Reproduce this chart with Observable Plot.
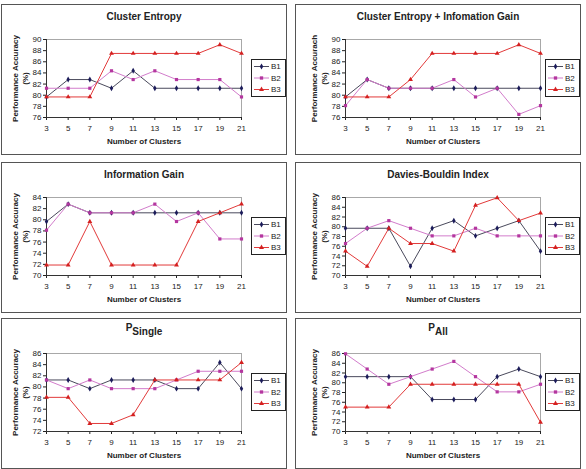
<!DOCTYPE html>
<html><head><meta charset="utf-8">
<script src="https://cdn.jsdelivr.net/npm/d3@7"></script>
<script src="https://cdn.jsdelivr.net/npm/@observablehq/plot@0.6"></script>
<style>
body{margin:0;background:#fff;font-family:"Liberation Sans",Arial,sans-serif;}
#root{position:relative;width:586px;height:469px;overflow:hidden;}
.panel{position:absolute;border:1.5px solid #555;box-sizing:border-box;background:#fff;}
.panel svg{position:absolute;left:0;top:0;}
.title{position:absolute;left:0;right:0;text-align:center;font-weight:bold;font-size:10px;line-height:12px;color:#222;}
.title sub{font-size:10px;vertical-align:-4px;}
.legend{position:absolute;border:1px solid #222;background:#fff;}
</style></head><body><div id="root"></div>
<script>
// ---- data ----
const clusters = [3,5,7,9,11,13,15,17,19,21];
const seriesNames = ["B1","B2","B3"];
const lineColors = ["#4a4a5c","#d27ccb","#e23a3a"];
const markColors = ["#1c1c5a","#b4369f","#d42020"];
const markSymbols = ["diamond","square","triangle"];

const ceB1 = [79.69,82.81,82.81,81.25,84.38,81.25,81.25,81.25,81.25,81.25];
const ceB2 = [81.25,81.25,81.25,84.38,82.81,84.38,82.81,82.81,82.81,79.69];
const ceB3 = [79.69,79.69,79.69,87.5,87.5,87.5,87.5,87.5,89.06,87.5];

const ceigB1 = [79.69,82.81,81.25,81.25,81.25,81.25,81.25,81.25,81.25,81.25];
const ceigB2 = [78.13,82.81,81.25,81.25,81.25,82.81,79.69,81.25,76.56,78.13];
const ceigB3 = [79.69,79.69,79.69,82.81,87.5,87.5,87.5,87.5,89.06,87.5];

const igB1 = [79.69,82.81,81.25,81.25,81.25,81.25,81.25,81.25,81.25,81.25];
const igB2 = [78.13,82.81,81.25,81.25,81.25,82.81,79.69,81.25,76.56,76.56];
const igB3 = [71.88,71.88,79.69,71.88,71.88,71.88,71.88,79.69,81.25,82.81];

const dbB1 = [79.69,79.69,79.69,71.88,79.69,81.25,78.13,79.69,81.25,75.0];
const dbB2 = [76.56,79.69,81.25,79.69,78.13,78.13,79.69,78.13,78.13,78.13];
const dbB3 = [75.0,71.88,79.69,76.56,76.56,75.0,84.38,85.94,81.25,82.81];

const psB1 = [81.25,81.25,79.69,81.25,81.25,81.25,79.69,79.69,84.38,79.69];
const psB2 = [81.25,79.69,81.25,79.69,79.69,79.69,81.25,82.81,82.81,82.81];
const psB3 = [78.13,78.13,73.44,73.44,75.0,81.25,81.25,81.25,81.25,84.38];

const paB1 = [81.25,81.25,81.25,81.25,76.56,76.56,76.56,81.25,82.81,81.25];
const paB2 = [85.94,82.81,79.69,81.25,82.81,84.38,81.25,78.13,78.13,79.69];
const paB3 = [75.0,75.0,75.0,79.69,79.69,79.69,79.69,79.69,79.69,71.88];

const titles = ["Cluster Entropy","Cluster Entropy + Infomation Gain","Information Gain","Davies-Bouldin Index","P<sub>Single</sub>","P<sub>All</sub>"];
const yLabels = ["Performance Accuracy","Performance Accurach","Performance Accuracy","Performance Accuracy","Performance Accuracy","Performance Accuracy"];
const yDomains = [[76,90],[76,90],[70,84],[70,86],[72,86],[70,86]];
const xLabel = "Number of Clusters";
const panelSeries = [[ceB1,ceB2,ceB3],[ceigB1,ceigB2,ceigB3],[igB1,igB2,igB3],[dbB1,dbB2,dbB3],[psB1,psB2,psB3],[paB1,paB2,paB3]];

// ---- layout ----
const colX = [1,295], colW = 286;
const rowY = [4,162,318], rowH = 151;
const root = document.getElementById("root");

panelSeries.forEach((series, p) => {
  const col = p % 2, row = Math.floor(p / 2);
  const ml = col === 0 ? 45 : 50, mr = colW - ml - 195;
  const panel = document.createElement("div");
  panel.className = "panel";
  Object.assign(panel.style, {left: colX[col]+"px", top: rowY[row]+"px", width: colW+"px", height: rowH+"px"});
  root.appendChild(panel);

  const [lo, hi] = yDomains[p];
  const data = series.flatMap((vals, i) => clusters.map((c, j) => ({series: seriesNames[i], x: c, y: vals[j]})));
  const marks = [
    Plot.frame({stroke: "#a8a8a8"}),
    Plot.axisY({ticks: d3.range(lo, hi + 1, 2), tickSize: 3, tickPadding: 2, label: null, fontSize: 8}),
    Plot.axisX({ticks: clusters, tickSize: 3, tickPadding: 5, label: null, fontSize: 8, tickFormat: d => d}),
    Plot.ruleX([3], {stroke: "#333"}),
    Plot.ruleY([lo], {stroke: "#333"})
  ];
  seriesNames.forEach((s, i) => {
    const sd = data.filter(d => d.series === s);
    marks.push(Plot.line(sd, {x: "x", y: "y", stroke: lineColors[i], strokeWidth: 1}));
  });
  seriesNames.forEach((s, i) => {
    const sd = data.filter(d => d.series === s);
    marks.push(Plot.dot(sd, {x: "x", y: "y", symbol: markSymbols[i], fill: markColors[i], r: 1.8}));
  });
  marks.push(Plot.text([yLabels[p] + "\n(%)"], {frameAnchor: "left", textAnchor: "middle", lineAnchor: "middle", rotate: -90, dx: -27, text: d => d, fontWeight: "bold", fontSize: 8, fill: "#222", lineHeight: 1.35}));
  marks.push(Plot.text([xLabel], {frameAnchor: "bottom", dy: 26, text: d => d, fontWeight: "bold", fontSize: 8, fill: "#222"}));

  const chart = Plot.plot({
    width: colW - 3, height: rowH - 3,
    marginTop: 34, marginBottom: 36, marginLeft: ml - 1, marginRight: mr - 2,
    style: {fontFamily: "'Liberation Sans', Arial, sans-serif", fontSize: "8px", color: "#222", background: "transparent", overflow: "visible"},
    x: {type: "linear", domain: [3, 21]},
    y: {domain: [lo, hi]},
    marks
  });
  panel.appendChild(chart);

  const t = document.createElement("div");
  t.className = "title";
  t.style.top = (p >= 4 ? 3 : 6) + "px";
  t.innerHTML = titles[p];
  panel.appendChild(t);

  // legend
  const lg = document.createElement("div");
  lg.className = "legend";
  Object.assign(lg.style, {left: "249px", top: "54px", width: "33px", height: "36px"});
  const svg = d3.create("svg").attr("width", 33).attr("height", 36).style("font-family", "'Liberation Sans', Arial, sans-serif").style("font-size", "8px");
  seriesNames.forEach((s, i) => {
    const y = 6.5 + i * 11.5;
    svg.append("line").attr("x1", 2).attr("x2", 17).attr("y1", y).attr("y2", y).attr("stroke", lineColors[i]).attr("stroke-width", 1);
    svg.append("path").attr("d", d3.symbol(d3["symbol" + markSymbols[i][0].toUpperCase() + markSymbols[i].slice(1)], 11)()).attr("transform", `translate(9.5,${y})`).attr("fill", markColors[i]);
    svg.append("text").attr("x", 19).attr("y", y).attr("dy", "0.35em").attr("fill", "#222").text(s);
  });
  lg.appendChild(svg.node());
  panel.appendChild(lg);
});
</script></body></html>
